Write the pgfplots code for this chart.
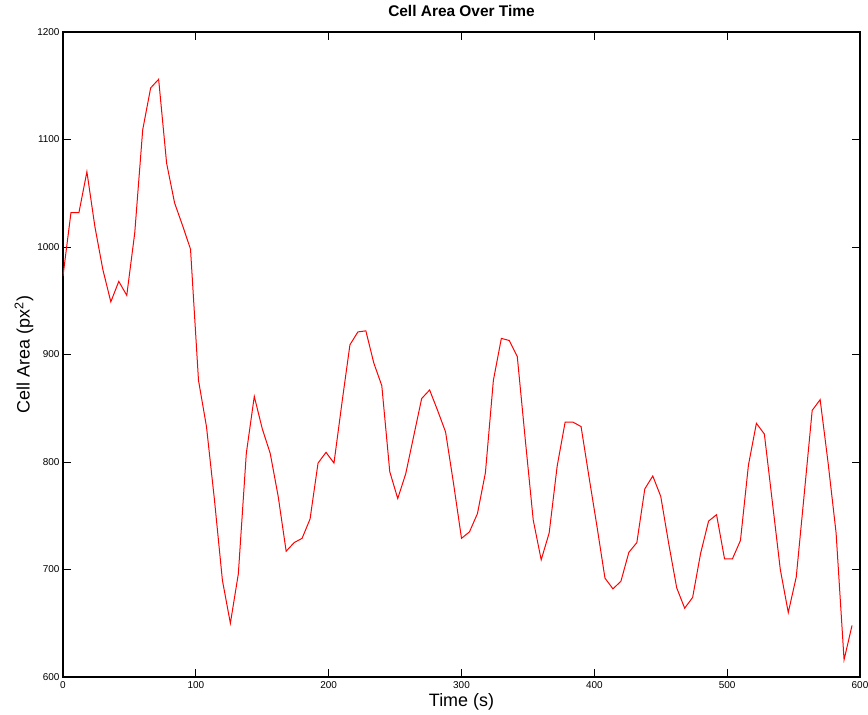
\documentclass[border=0pt]{standalone}
\usepackage{fontspec}
\setmainfont{Liberation Sans}
\usepackage{pgfplots}
\usepackage{pgfplotstable}
\pgfplotsset{compat=1.18}
\pgfplotstableread{
t a
0 973
6 1032
12 1032
18 1070
24 1019
30 979
36 949
42 968
48 955
54 1013
60 1109
66 1148
72 1156
78 1078
84 1041
90 1020
96 998
102 876
108 833
114 765
120 690
126 650
132 696
138 808
144 861
150 831
156 808
162 768
168 717
174 725
180 729
186 747
192 799
198 809
204 799
210 855
216 909
222 921
228 922
234 892
240 871
246 791
252 766
258 789
264 824
270 859
276 867
282 848
288 828
294 780
300 729
306 735
312 752
318 790
324 876
330 915
336 913
342 898
348 821
354 746
360 709
366 734
372 796
378 837
384 837
390 833
396 786
402 740
408 692
414 682
420 689
426 716
432 725
438 775
444 787
450 768
456 724
462 683
468 664
474 674
480 715
486 745
492 751
498 710
504 710
510 727
516 797
522 836
528 826
534 763
540 700
546 660
552 693
558 770
564 848
570 858
576 799
582 734
588 616
594 648
}\celldata
\begin{document}
\begin{tikzpicture}
\begin{axis}[
  name=ax, at={(0,0)}, anchor=south west,
  width=797bp, height=645bp, scale only axis,
  xmin=0, xmax=600, ymin=600, ymax=1200,
  xtick={0,100,...,600}, ytick={600,700,...,1200},
  tick align=inside, major tick length=8bp,
  axis line style={line width=1.2bp},
  tick style={black, line width=0.8bp},
  every tick label/.append style={font=\fontsize{10}{12}\selectfont},
  xticklabel style={yshift=-1.5bp},
  /pgf/number format/assume math mode=true,
  /pgf/number format/1000 sep={},
  title={Cell Area Over Time},
  title style={font=\fontsize{15.5}{18}\selectfont\bfseries, at={(axis description cs:0.5,1)}, anchor=base, yshift=9.5bp},
  xlabel={Time (s)},
  ylabel={Cell Area (px\textsuperscript{2})},
  label style={font=\fontsize{18}{21}\selectfont},
  xlabel style={at={(axis description cs:0.5,0)}, anchor=base, yshift=-29bp},
  ylabel style={at={(axis description cs:-0.049,0.5)}, anchor=center},
]
\addplot[red, line width=1bp] table[x=t, y=a] {\celldata};
\end{axis}
\pgfresetboundingbox
\path (-63bp,-38bp) rectangle (805bp,677bp);
\end{tikzpicture}
\end{document}
